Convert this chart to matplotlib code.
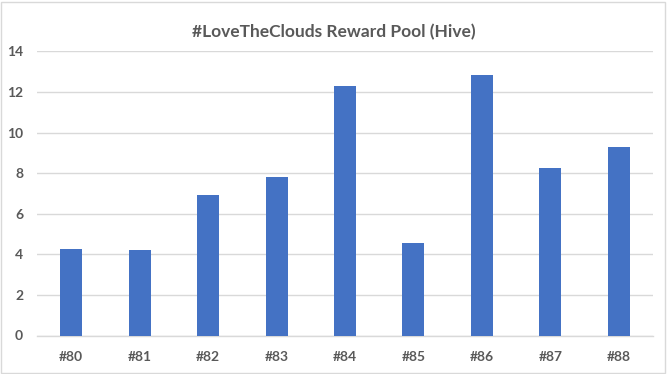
import matplotlib
matplotlib.use("Agg")
import matplotlib.pyplot as plt
from matplotlib.patches import Rectangle

categories = ["#80", "#81", "#82", "#83", "#84", "#85", "#86", "#87", "#88"]
reward_pool = [4.26, 4.21, 6.92, 7.81, 12.29, 4.56, 12.84, 8.24, 9.29]
y_ticks = [0, 2, 4, 6, 8, 10, 12, 14]
title = "#LoveTheClouds Reward Pool (Hive)"

bar_color = "#4472C4"
grid_color = "#D9D9D9"
text_color = "#595959"
font = ["Lato", "DejaVu Sans"]

fig = plt.figure(figsize=(6.68, 3.74), dpi=100)
ax = fig.add_axes([37 / 668, 1 - 335.5 / 374, 616 / 668, (335.5 - 51.3) / 374])

x = range(len(categories))
ax.bar(x, reward_pool, width=0.32, color=bar_color, zorder=3)

ax.set_xlim(-0.5, len(categories) - 0.5)
ax.set_ylim(0, 14)
ax.set_yticks(y_ticks)
ax.set_xticks(list(x))
ax.set_xticklabels(categories)
ax.yaxis.grid(True, color=grid_color, linewidth=1)
ax.set_axisbelow(True)
for side in ["top", "right", "left"]:
    ax.spines[side].set_visible(False)
ax.spines["bottom"].set_color(grid_color)
ax.spines["bottom"].set_linewidth(1)
ax.tick_params(axis="both", length=0)
ax.tick_params(axis="x", pad=11)
ax.tick_params(axis="y", pad=10)
for lbl in ax.get_xticklabels() + ax.get_yticklabels():
    lbl.set_fontfamily(font)
    lbl.set_fontweight("bold")
    lbl.set_fontsize(10)
    lbl.set_color(text_color)

fig.text(0.5, 1 - 32 / 374, title, ha="center", va="center",
         fontsize=12.5, fontweight="bold", color=text_color, family=font)

# chart frame
fig.patches.append(Rectangle((1 / 668, 1 / 374), 664 / 668, 371 / 374,
                             transform=fig.transFigure, fill=False,
                             edgecolor=grid_color, linewidth=1))

fig.savefig("out.png", dpi=100)
